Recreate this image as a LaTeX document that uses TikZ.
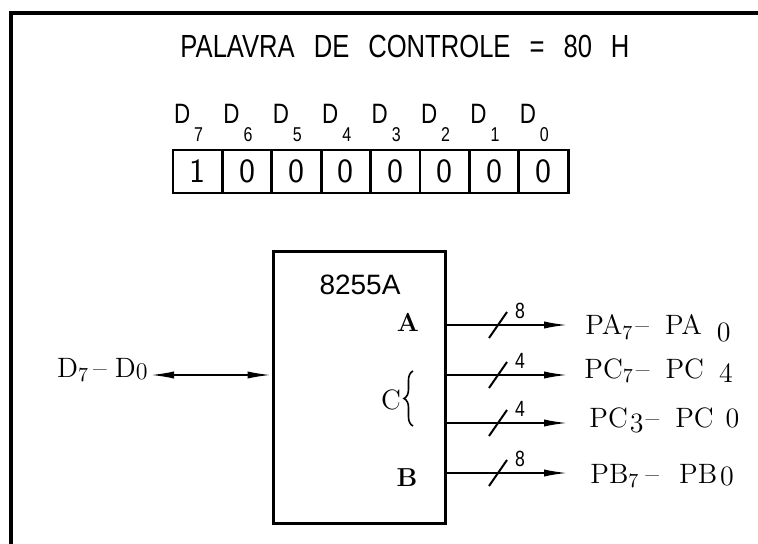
\documentclass[tikz,border=0pt]{standalone}
\usepackage{fontspec}
\newfontfamily\plotfont{Liberation Sans}[FakeStretch=0.8]
\newfontfamily\chipfont{Liberation Sans}
\usetikzlibrary{arrows.meta,decorations.pathreplacing,calc}

\tikzset{
  frame/.style={line width=1.8pt},
  cellbox/.style={draw, line width=1.4pt, minimum width=24.7pt, minimum height=21.5pt,
    inner sep=0pt, font=\sffamily\fontsize{17}{17}\selectfont\addfontfeatures{FakeStretch=0.75}},
  dlabel/.style={inner sep=0pt, font=\plotfont\fontsize{14}{14}\selectfont},
  serif/.style={inner sep=0pt, font=\fontsize{14}{14}\selectfont},
  portname/.style={inner sep=0pt, font=\bfseries\fontsize{13}{13}\selectfont},
  width/.style={inner sep=0pt, font=\plotfont\fontsize{11}{11}\selectfont},
  bustip/.tip={Latex[length=12pt,width=3.6pt]},
  bus/.style={line width=1pt, -bustip},
}
\newcommand\lowdigit[2]{\raisebox{-#1}{\fontsize{14}{14}\selectfont #2}}

\begin{document}
\begin{tikzpicture}[x=0.5pt,y=-0.5pt]
    \useasboundingbox (0,0) rectangle (758,544);
    \draw[frame] (758,13) -- (11,13) -- (11,544);
    \node[dlabel, font=\plotfont\fontsize{16}{16}\selectfont] (title) at (405,46)
        {PALAVRA\hspace{9.5pt}DE\hspace{9.5pt}CONTROLE\hspace{9.5pt}=\hspace{9.5pt}80\hspace{9.5pt}H};
    % control word
    \foreach \bit [count=\i from 0] in {1,0,0,0,0,0,0,0}
        \node[cellbox] (c\i) at ({197.7+49.4*\i},171.5) {\bit};
    \foreach \i [evaluate=\i as \k using int(7-\i)] in {0,...,7}
        \node[dlabel, anchor=base west] (d\k) at ($(c\i.north west)+(2,-25)$)
            {D\hspace{2pt}\raisebox{-9pt}{\fontsize{10}{10}\selectfont\k}};
    % 8255A
    \node[draw, line width=1.5pt, minimum width=86pt, minimum height=135.5pt] (chip) at (359,387.5) {};
    \node[inner sep=0pt, font=\chipfont\fontsize{14}{14}\selectfont] (chipName) at (360,285) {8255A};
    \node[portname] (portA) at (408,322) {A};
    \node[serif] (portC) at (391,400) {C};
    \node[portname] (portB) at (407,478) {B};
    \draw[line width=0.8pt, decorate, decoration={brace, amplitude=4.5pt}] (413,426) -- (413,371);
    % data bus
    \coordinate (dEnd) at (150,375);
    \node[serif, anchor=base east] (dbus) at (148,377)
        {D$_7$\hspace{2pt}\textendash\hspace{4pt}D\raisebox{-1.5pt}{\fontsize{12}{12}\selectfont 0}};
    \draw[line width=1pt, bustip-bustip] (dEnd) -- (chip.west |- dEnd);
    % ports
    \foreach \y/\w/\nm in {325/8/pa, 375/4/pch, 423/4/pcl, 473/8/pb} {
        \coordinate (\nm-end) at (568,\y);
        \coordinate (\nm-mark) at (498,\y);
        \draw[bus] (chip.east |- \nm-end) -- (\nm-end);
        \draw[line width=1pt] ($(\nm-mark)+(-9,13)$) -- ($(\nm-mark)+(9,-13)$);
        \node[width] (\nm-w) at ($(\nm-mark)+(22,-14)$) {\w};
    }
    \node[serif, anchor=base west] (paLbl) at (585,335)
        {PA$_7$\hspace{1pt}\textendash\hspace{8pt}PA\hspace{7.5pt}\lowdigit{3.5pt}{0}};
    \node[serif, anchor=base west] (pchLbl) at (584,378)
        {PC$_7$\hspace{1pt}\textendash\hspace{8pt}PC\hspace{7.5pt}\lowdigit{2pt}{4}};
    \node[serif, anchor=base west] (pclLbl) at (589,427)
        {PC\hspace{1pt}\lowdigit{2.5pt}{3}\hspace{1pt}\textendash\hspace{8pt}PC\hspace{6pt}\lowdigit{0pt}{0}};
    \node[serif, anchor=base west] (pbLbl) at (590,483)
        {PB$_7$\hspace{3pt}\textendash\hspace{10pt}PB\hspace{1.5pt}\lowdigit{1pt}{0}};
\end{tikzpicture}
\end{document}
